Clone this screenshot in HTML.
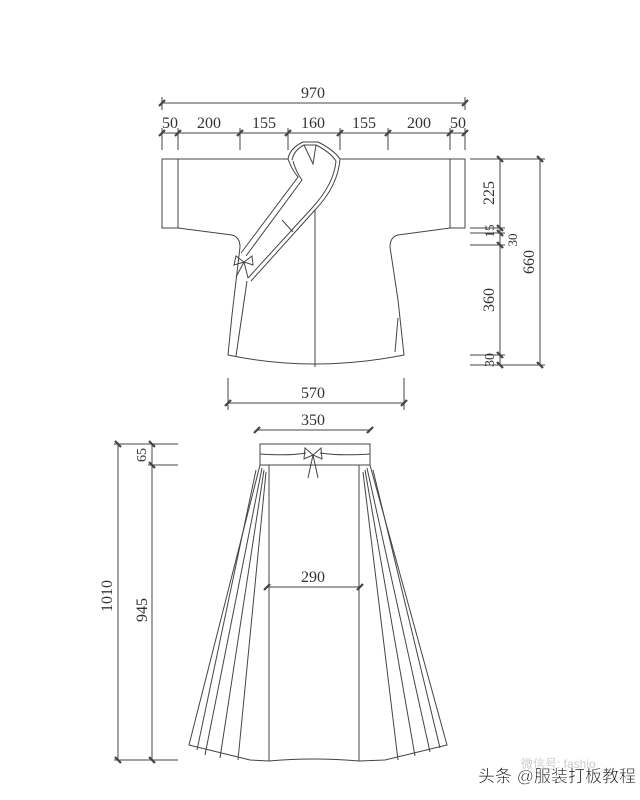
<!DOCTYPE html>
<html><head><meta charset="utf-8"><style>
html,body{margin:0;padding:0;background:#fff;}
svg{display:block;}
text{font-family:"Liberation Serif","Noto Serif CJK SC",serif;font-size:16px;fill:#333;}
.w{font-family:"Liberation Sans","Noto Sans CJK SC",sans-serif;font-size:17px;fill:#111;stroke:#fff;stroke-width:0.5;}
</style></head><body>
<svg width="640" height="800" viewBox="0 0 640 800" xmlns="http://www.w3.org/2000/svg">
<g stroke="#444" stroke-width="1" fill="none">
<!-- top dims -->
<line x1="162" y1="103" x2="465" y2="103"/>
<line x1="162" y1="97" x2="162" y2="110"/><line x1="465" y1="97" x2="465" y2="110"/>
<line x1="162" y1="133" x2="465" y2="133"/>
<g>
<line x1="162" y1="128" x2="162" y2="150"/><line x1="178" y1="128" x2="178" y2="150"/>
<line x1="240" y1="128" x2="240" y2="150"/><line x1="288" y1="128" x2="288" y2="150"/>
<line x1="340" y1="128" x2="340" y2="150"/><line x1="388" y1="128" x2="388" y2="150"/>
<line x1="450" y1="128" x2="450" y2="150"/><line x1="465" y1="128" x2="465" y2="150"/>
</g>
<g stroke-width="2.2">
<line x1="159" y1="106" x2="165" y2="100"/><line x1="462" y1="106" x2="468" y2="100"/>
<line x1="159" y1="136" x2="165" y2="130"/><line x1="175" y1="136" x2="181" y2="130"/>
<line x1="237" y1="136" x2="243" y2="130"/><line x1="285" y1="136" x2="291" y2="130"/>
<line x1="337" y1="136" x2="343" y2="130"/><line x1="385" y1="136" x2="391" y2="130"/>
<line x1="447" y1="136" x2="453" y2="130"/><line x1="462" y1="136" x2="468" y2="130"/>
</g>
<!-- jacket -->
<path d="M288,159 L162,159 L162,228 L178,228 L232,235 Q240,237 240,247 L232,315 L228,355 Q313,373 404,355 L398,300 L390,247 Q390,237 398,235 L450,228 L465,228 L465,159 L340,159"/>
<line x1="178" y1="159" x2="178" y2="228"/><line x1="450" y1="159" x2="450" y2="228"/>
<path d="M288,159 Q290,148 303,142 L318,142 Q334,150 340,159"/>
<path d="M292,160 Q294,150 304,145 L316,145 Q330,152 336,161"/>
<path d="M304,145 L313,164 L316,145"/>
<path d="M288,159 Q292,170 298,177 L241,253"/>
<path d="M293,161 Q296,172 302,180 L246,256"/>
<path d="M340,159 Q338,186 315,210 L251,281"/>
<path d="M336,161 Q334,184 312,208 L248,278"/>
<line x1="282" y1="220" x2="293" y2="232"/>
<line x1="315" y1="210" x2="315" y2="367"/>
<path d="M247,281 L236,356"/>
<path d="M398,318 L395,352"/>
<!-- jacket bow -->
<path d="M244,262 L236,256 L234,265 Z M244,262 L252,256 L253,265 Z M244,262 L236,277 M244,262 L248,278"/>
<!-- right dims -->
<line x1="470" y1="159" x2="545" y2="159"/>
<line x1="470" y1="228" x2="505" y2="228"/>
<line x1="470" y1="233" x2="505" y2="233"/>
<line x1="470" y1="245" x2="505" y2="245"/>
<line x1="470" y1="355" x2="505" y2="355"/>
<line x1="470" y1="365" x2="545" y2="365"/>
<line x1="500" y1="159" x2="500" y2="365"/>
<line x1="540" y1="159" x2="540" y2="365"/>
<g stroke-width="2.2">
<line x1="497" y1="156" x2="503" y2="162"/><line x1="537" y1="156" x2="543" y2="162"/>
<line x1="497" y1="225" x2="503" y2="231"/><line x1="497" y1="230" x2="503" y2="236"/>
<line x1="497" y1="242" x2="503" y2="248"/><line x1="497" y1="352" x2="503" y2="358"/>
<line x1="497" y1="362" x2="503" y2="368"/><line x1="537" y1="362" x2="543" y2="368"/>
</g>
<!-- 570 -->
<line x1="228" y1="403" x2="404" y2="403"/>
<line x1="228" y1="378" x2="228" y2="410"/><line x1="404" y1="378" x2="404" y2="410"/>
<g stroke-width="2.2"><line x1="225" y1="406" x2="231" y2="400"/><line x1="401" y1="406" x2="407" y2="400"/>
<line x1="254" y1="433" x2="260" y2="427"/><line x1="367" y1="433" x2="373" y2="427"/>
<line x1="264" y1="590" x2="270" y2="584"/><line x1="357" y1="590" x2="363" y2="584"/>
<line x1="115" y1="441" x2="121" y2="447"/><line x1="149" y1="441" x2="155" y2="447"/>
<line x1="149" y1="462" x2="155" y2="468"/><line x1="115" y1="757" x2="121" y2="763"/>
<line x1="149" y1="757" x2="155" y2="763"/></g>
<!-- 350 -->
<line x1="257" y1="430" x2="370" y2="430"/>
<!-- skirt -->
<rect x="260" y="444" width="110" height="21"/>
<path d="M260,454 Q290,456 306,453 M320,453 Q340,456 370,454"/>
<path d="M313,455 L305,448 L304,459 Z M313,455 L321,448 L322,459 Z M313,455 L308,478 M313,455 L318,478"/>
<line x1="269" y1="465" x2="269" y2="761"/>
<line x1="359" y1="465" x2="359" y2="761"/>
<path d="M269,761 Q313,757 359,761"/>
<path d="M260,465 L189,745 L250,760 L269,761"/>
<path d="M262,468 L205,755 M264,470 L220,758 M266,472 L238,760 M256,470 L197,750"/>
<path d="M370,465 L447,745 L385,760 L359,761"/>
<path d="M367,468 L430,752 M365,470 L415,756 M363,472 L398,760 M373,470 L440,748"/>
<!-- 290 -->
<line x1="267" y1="587" x2="360" y2="587"/>
<!-- left dims -->
<line x1="114" y1="444" x2="178" y2="444"/>
<line x1="148" y1="465" x2="178" y2="465"/>
<line x1="114" y1="760" x2="178" y2="760"/>
<line x1="118" y1="444" x2="118" y2="760"/>
<line x1="152" y1="444" x2="152" y2="760"/>
</g>
<g text-anchor="middle">
<text x="313" y="98">970</text>
<text x="170" y="128">50</text><text x="209" y="128">200</text>
<text x="264" y="128">155</text><text x="313" y="128">160</text>
<text x="364" y="128">155</text><text x="419" y="128">200</text>
<text x="458" y="128">50</text>
<text x="313" y="398">570</text>
<text x="313" y="425">350</text>
<text x="313" y="582">290</text>
<text transform="translate(494,193) rotate(-90)">225</text>
<text transform="translate(494,231) rotate(-90)" style="font-size:13px">15</text>
<text transform="translate(517,240) rotate(-90)" style="font-size:13px">30</text>
<text transform="translate(494,300) rotate(-90)">360</text>
<text transform="translate(494,360) rotate(-90)" style="font-size:14px">30</text>
<text transform="translate(534,262) rotate(-90)">660</text>
<text transform="translate(146,455) rotate(-90)" style="font-size:14px">65</text>
<text transform="translate(147,610) rotate(-90)">945</text>
<text transform="translate(112,596) rotate(-90)">1010</text>
</g>
<text x="521" y="768" style="font-family:'Liberation Sans','Noto Sans CJK SC',sans-serif;font-size:12px;fill:#ccc">微信号: fashio</text>
<text class="w" x="478" y="782">头条 @服装打板教程</text>
</svg>
</body></html>
